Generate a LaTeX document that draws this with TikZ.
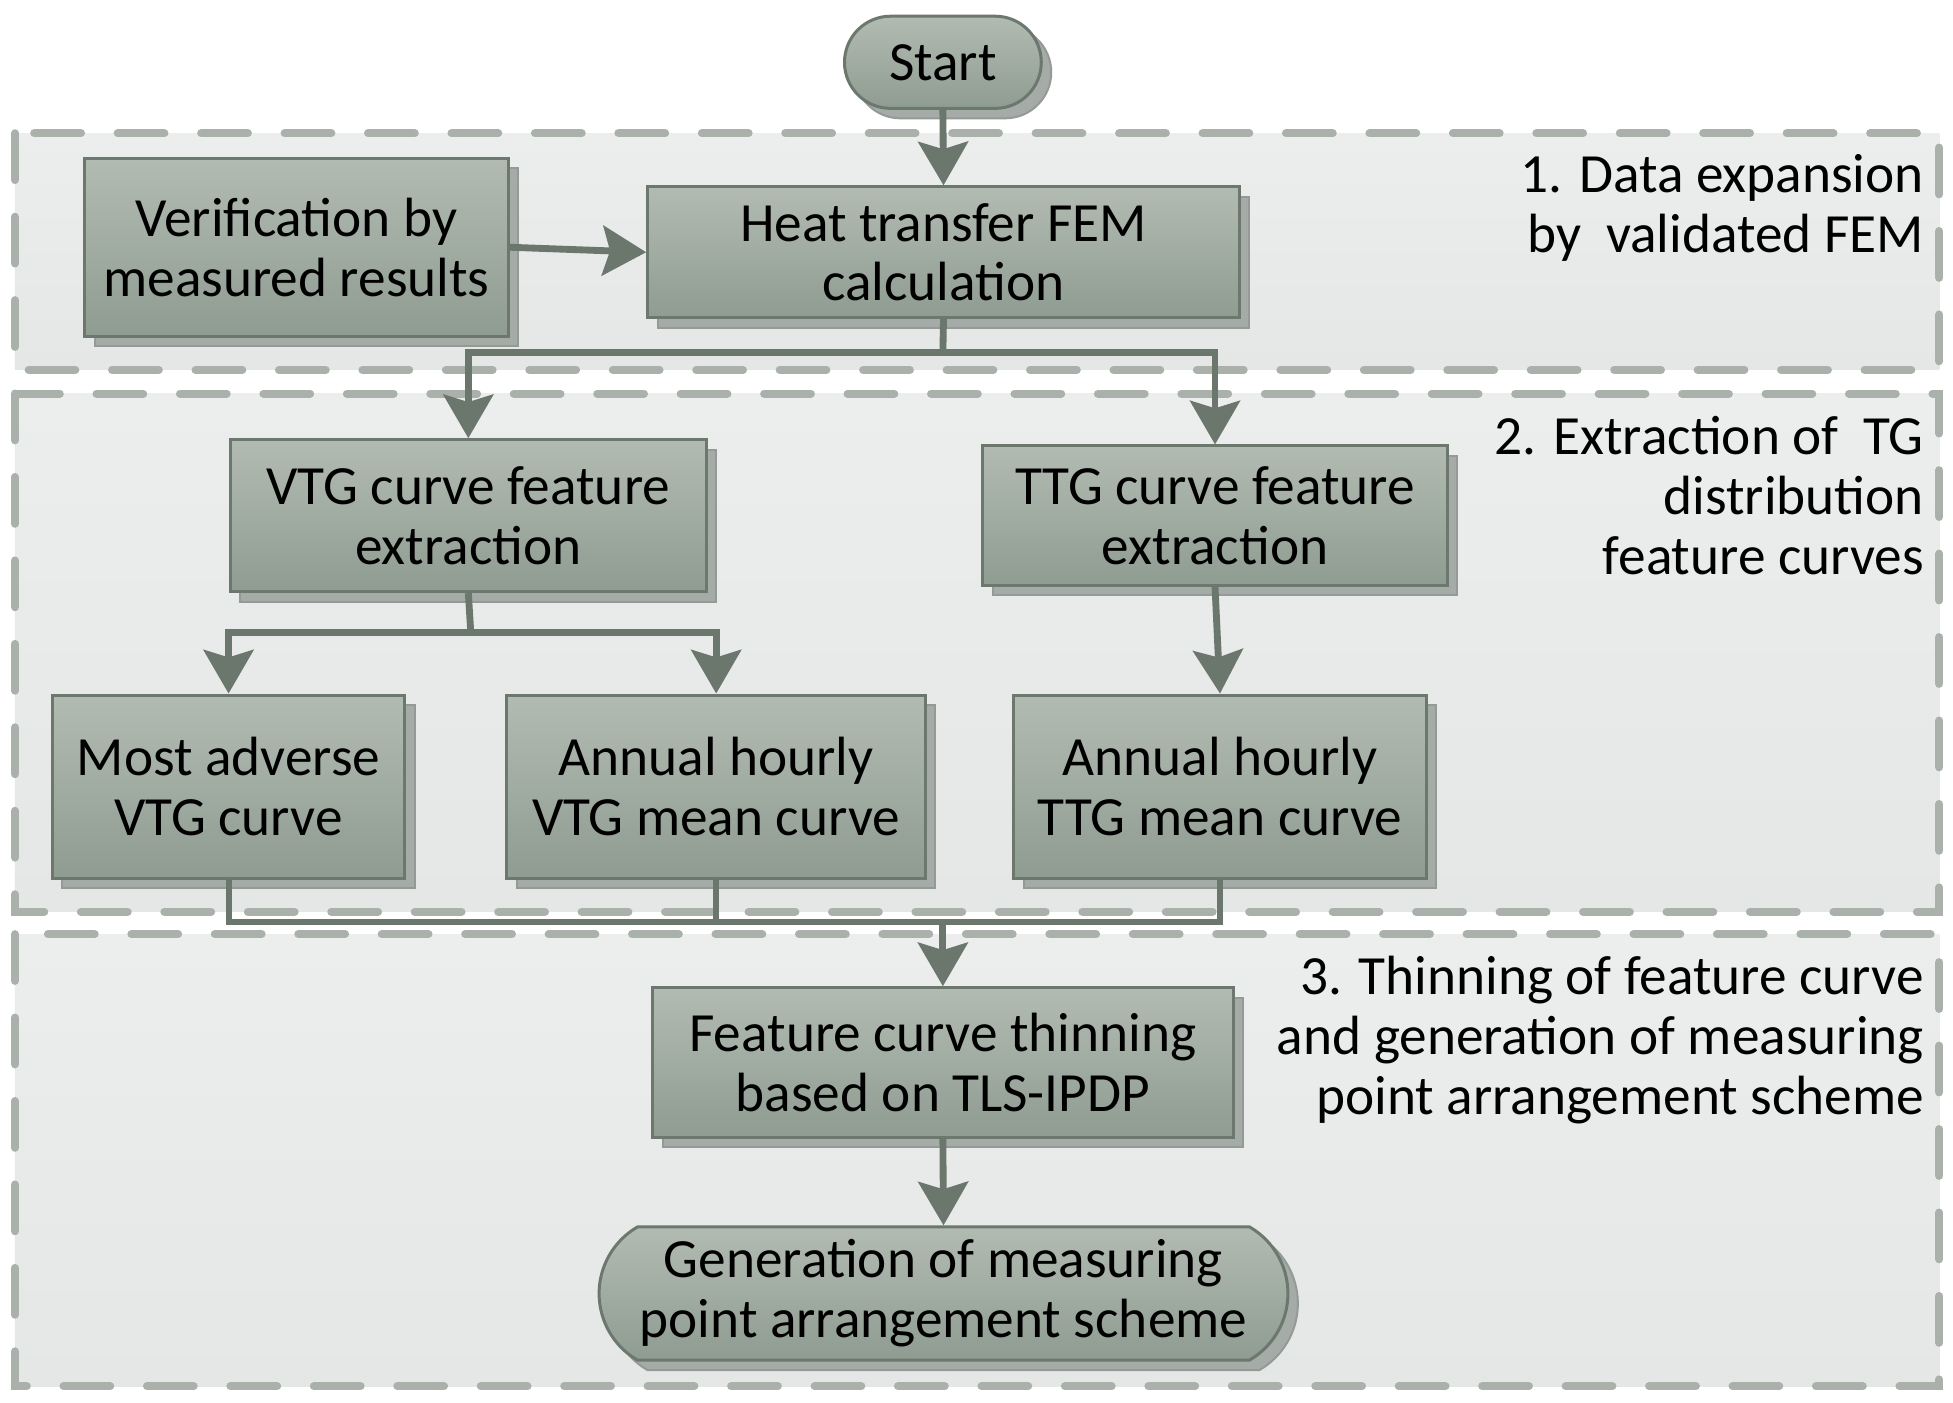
\documentclass[tikz,border=0pt]{standalone}
\usepackage{fontspec}
\setmainfont{Carlito}
\usetikzlibrary{arrows.meta,shadows,shapes.misc}
\definecolor{boxtop}{HTML}{B2BBB2}
\definecolor{boxbot}{HTML}{8F9C91}
\definecolor{boxline}{HTML}{6C776E}
\definecolor{shadowc}{HTML}{A5ABA6}
\definecolor{lanetop}{HTML}{ECEEED}
\definecolor{lanebot}{HTML}{E4E7E5}
\definecolor{lanedash}{HTML}{AAB1AB}
\definecolor{conncol}{HTML}{6B766D}
\tikzset{
  procbox/.style={rectangle, draw=boxline, line width=1.2pt, top color=boxtop, bottom color=boxbot,
    copy shadow={shadow xshift=4pt, shadow yshift=-4pt, fill=shadowc, draw=shadowc!90!black, line width=0.8pt},
    align=center, inner sep=0pt, font=\fontsize{22.2}{24}\selectfont},
  termbox/.style={procbox, rounded rectangle},
  lane/.style={draw=lanedash, line width=3.25pt, line cap=round, dash pattern=on 18.75pt off 14.75pt,
    top color=lanetop, bottom color=lanebot},
  lanelabel/.style={align=right, anchor=east, inner sep=0pt, font=\fontsize{22.2}{24}\selectfont},
  conn/.style={draw=conncol, line width=2.75pt},
  thinconn/.style={draw=conncol, line width=2.4pt},
  arr/.style={conn, -{Stealth[length=17.5pt, width=20pt, inset=3pt]}}
}
\begin{document}
\begin{tikzpicture}[x=0.5pt, y=-0.5pt]
\useasboundingbox (0,0) rectangle (1568,1126);
\fill[white] (0,0) rectangle (1568,1126);
% lanes
\path[lane] (12,107) rectangle (1557,297);
\path[lane] (12,316) rectangle (1557,732);
\path[lane] (12,750) rectangle (1557,1113);
% lane labels
\node[lanelabel] (l1) at (1545,167) {1. Data expansion\\by\ \ validated FEM};
\node[lanelabel] (l2) at (1545,398) {2. Extraction of\ \ TG\\distribution\\feature curves};
\node[lanelabel] (l3) at (1545,835) {3. Thinning of feature curve\\and generation of measuring\\point arrangement scheme};
% nodes
\node[termbox, minimum width=79pt, minimum height=37pt, rounded rectangle arc length=180] (start) at (757,50) {Start};
\node[procbox, minimum width=237.5pt, minimum height=52.5pt] (heat) at (757.5,202.5) {Heat transfer FEM\\calculation};
\node[procbox, minimum width=170pt, minimum height=71.5pt] (verif) at (238,198.5) {Verification by\\measured results};
\node[procbox, minimum width=191pt, minimum height=61pt] (vtg) at (376,414) {VTG curve feature\\extraction};
\node[procbox, minimum width=186.5pt, minimum height=56pt] (ttg) at (975.5,414) {TTG curve feature\\extraction};
\node[procbox, minimum width=141.5pt, minimum height=73.5pt] (most) at (183.5,631.5) {Most adverse\\VTG curve};
\node[procbox, minimum width=168pt, minimum height=73.5pt] (avtg) at (575,631.5) {Annual hourly\\VTG mean curve};
\node[procbox, minimum width=165.5pt, minimum height=73.5pt] (attg) at (979.5,631.5) {Annual hourly\\TTG mean curve};
\node[procbox, minimum width=233pt, minimum height=60pt] (thin) at (757,853) {Feature curve thinning\\based on TLS-IPDP};
\node[termbox, minimum width=276.5pt, minimum height=53.5pt, rounded rectangle arc length=120] (gen) at (757.5,1038.5) {Generation of measuring\\point arrangement scheme};
% junctions
\coordinate (j1) at (757,283);
\coordinate (j2) at (378,508);
\coordinate (j3) at (757,740);
% connectors
\draw[arr] (start.south) -- (heat.north);
\draw[arr] (verif.east) -- (heat.west);
\draw[conn] (heat.south) -- (j1);
\draw[arr] (j1) -| (vtg.north);
\draw[arr] (j1) -| (ttg.north);
\draw[conn] (vtg.south) -- (j2);
\draw[arr] (j2) -| (most.north);
\draw[arr] (j2) -| (avtg.north);
\draw[arr] (ttg.south) -- (attg.north);
\draw[thinconn] (most.south) |- (j3);
\draw[thinconn] (attg.south) |- (j3);
\draw[thinconn] (avtg.south) -- (avtg.south |- j3);
\draw[arr] (j3) -- (thin.north);
\draw[arr] (thin.south) -- (gen.north);
\end{tikzpicture}
\end{document}
